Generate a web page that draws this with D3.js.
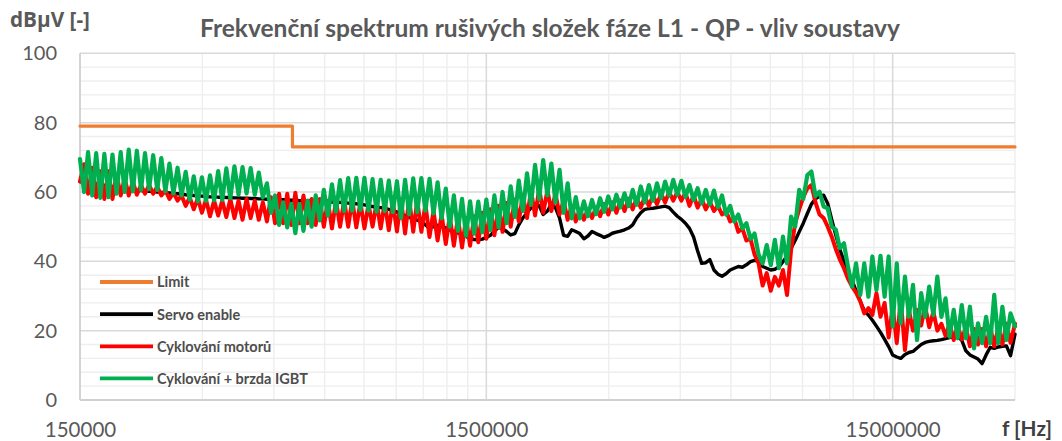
<!DOCTYPE html>
<html>
<head>
<meta charset="utf-8">
<script src="https://cdn.jsdelivr.net/npm/d3@7"></script>
<style>
  html, body { margin: 0; padding: 0; background: #ffffff; overflow: hidden; }
  svg { display: block; }
  text { font-family: Lato, "Open Sans", "Liberation Sans", sans-serif; }
  .bold { font-weight: 700; }
</style>
</head>
<body>
<svg id="chart" width="1062" height="441"></svg>
<script>
// Scan frequencies in kHz (log sweep, 100 points per decade)
const freqKHz = [
  150,153.5,157,160.8,164.4,168.3,172.2,176.3,180.3,184.5,
  188.9,193.2,197.7,202.4,207,212,216.8,221.9,227.1,232.4,
  237.8,243.3,249,254.7,260.7,266.7,273,279.3,285.8,292.5,
  299.3,306.3,313.4,320.7,328.2,335.9,343.7,351.6,359.9,368.3,
  376.8,385.5,394.5,403.8,413.1,422.7,432.6,442.7,453,463.5,
  474.3,485.4,496.7,508.2,520.1,532.2,544.7,557.3,570.3,583.5,
  597.2,611.1,625.4,639.9,654.8,670.1,685.7,701.6,717.9,734.7,
  751.8,769.4,787.2,805.5,824.3,843.5,863.1,883.2,903.9,924.9,
  946.5,968.6,991.1,1014,1038,1062,1087,1112,1138,1164,
  1192,1219,1248,1277,1307,1337,1368,1400,1433,1466,
  1500,1535,1570,1608,1644,1683,1722,1763,1803,1845,
  1889,1932,1977,2024,2070,2120,2168,2219,2271,2324,
  2378,2433,2490,2547,2607,2667,2730,2793,2858,2925,
  2993,3063,3134,3207,3282,3359,3437,3516,3599,3683,
  3768,3855,3945,4038,4131,4227,4326,4427,4530,4635,
  4743,4854,4967,5082,5201,5322,5447,5573,5703,5835,
  5972,6111,6254,6399,6548,6701,6857,7016,7179,7347,
  7518,7694,7872,8055,8243,8435,8631,8832,9039,9249,
  9465,9686,9911,10140,10380,10620,10870,11120,11380,11640,
  11920,12190,12480,12770,13070,13370,13680,14000,14330,14660,
  15000,15350,15700,16080,16440,16830,17220,17630,18030,18450,
  18890,19320,19770,20240,20700,21200,21680,22190,22710,23240,
  23780,24330,24900,25470,26070,26670,27300,27930,28580,29250,
  30000
];

// Servo enable [dBµV]
const servoEnable = [
  63,62.8,62.6,62.5,62.3,62.1,61.9,61.7,61.5,61.3,
  61.1,60.9,60.8,60.6,60.5,60.4,60.3,60.2,60.1,60,
  59.9,59.8,59.7,59.6,59.5,59.4,59.2,59.1,59,58.9,
  58.8,58.7,58.6,58.6,58.5,58.5,58.4,58.4,58.3,58.3,
  58.2,58.2,58.1,58.1,58,58,57.9,57.9,57.8,57.8,
  57.8,57.7,57.6,57.6,57.5,57.5,57.4,57.4,57.3,57.3,
  57.3,57.2,57.1,57.1,57,56.9,56.8,56.7,56.6,56.5,
  56.3,56,55.8,55.6,55.5,55.3,55,54.6,54.2,53.6,
  53.2,52.7,52.2,51.9,51.4,50.5,49.6,50,50.4,50.2,
  49.6,49,48.6,48.2,47.8,47.2,46.5,46.3,46.2,46.4,
  46.9,47.5,48.7,49.8,49.4,48.6,47.6,48,50.5,52.5,
  54,55.4,56.6,56,53.5,54.5,56.5,55.5,52.5,47.5,
  47.2,49.1,48.6,48,46.5,47.3,48.6,48,47.5,46.9,
  47.4,48.1,48.4,48.7,49.1,49.6,50.5,52.5,54,55,
  55.2,55.3,55.5,55.7,55.9,55.5,54.2,53,52.1,51,
  49.5,47,43,39.4,39.6,40.5,37.5,36.3,35.7,36.4,
  37.5,38,38.5,38.3,39,39.9,40.3,40,38.5,38,
  37.5,37.7,38.4,39.9,41.5,43.8,46,48.5,51,53.8,
  56.5,58,58.8,59.1,56.7,52,47.5,43.5,40,37,
  34.5,31.5,28.5,25.8,24.5,23,21.3,19.5,17.5,15.4,
  13,12.4,12,13.1,13.7,14,15,16,16.6,16.9,
  17.1,17.2,17.4,17.7,18,18.3,18.3,17.2,14.2,13,
  12.4,11.8,10.5,13,15.2,14.9,15.3,15.5,15.6,12.8,
  19
];

// Cyklování motorů [dBµV]
const motorCycling = [
  63,68,59.5,67,58.5,66,58,66,58,65,
  59,64,59,63,59.2,62,59.5,62,59.5,61.5,
  59,60.5,58,59.8,57.5,59,56,58.5,55,58.2,
  54,57.8,53,57.5,53.2,57.5,52.8,58,52.5,57.5,
  52,58,52.5,57.5,52,57,51.5,58.5,51,59.5,
  51,59.5,50.5,59.8,51,59,51,58,50.5,58,
  50,57.5,49.5,57.5,50,57.5,50,57.7,49.8,57,
  49.5,56.5,50,57,49.5,57,49,57,48.6,58,
  48,58,48.5,57.5,48.5,56.5,47,54.5,46,53.5,
  45,53,44.5,52.7,44,52.5,44.5,53,45.5,54,
  46.5,55,47.5,56,48.5,56.8,50,57.8,51.5,59.2,
  52.5,60.5,53.2,61,54,60.5,54.5,59.5,53.5,57.5,
  52,56,51.5,55,52,55,52.5,55.5,53,56.5,
  53.5,57,54,57.5,54.5,58,55,58.2,55.5,58.7,
  56,59,56.5,59.5,57,60,57.5,60,57.5,59.8,
  56,59,55.5,58,55,57.2,54.5,56,53.5,54.5,
  51.5,52.5,48.5,49.5,46,46.5,42,39.4,33,36.6,
  31.5,35.5,33,37.5,30.3,43.3,51,55,58.5,61,
  62,57,53.5,52.5,50,47.1,43.5,40.5,38,35,
  32.7,31,28.5,25,26.5,24.5,30.8,24,28,18,
  27,16.4,29,14.4,26,20,26,21.5,27,21,
  25.5,20,22,18.5,22,17.3,21.5,17.5,21,15.5,
  20.5,16,20.5,15.5,21,15.5,21,16,22,16.5,
  22
];

// Cyklování + brzda IGBT [dBµV]
const cyclingBrake = [
  69.5,60,71.5,59,71.2,58.3,71,58.5,70.8,59.5,
  71.5,60,72.2,60.2,71.9,60.6,71.2,60.8,70.6,60.6,
  69.8,60.2,68.2,59.6,67,59,65.8,57.8,64.5,57.3,
  64.2,57.4,64.8,57.6,66,57.7,66.8,58.2,67.4,59.2,
  67.2,59.6,66.9,59.2,65.6,58.4,62.5,54,59,50.5,
  57,49.8,56.6,48.1,56.5,48.8,57.5,50,59,51.8,
  60.6,53.2,62.2,54.3,63.4,54.5,64,54.6,64.1,54.8,
  64.1,54.6,63.7,54.3,63.5,54.5,63.3,54.2,63.1,52.5,
  63.5,53.6,63.9,54.2,64,54.6,63.8,53.8,62.8,52.4,
  61,50,59,48.8,58,47.4,57.3,48,57.2,48.4,
  57.8,49,59,49.8,60,51,61.6,52.8,63.3,54.5,
  65.4,56.3,67.8,58,69.2,59,68.2,57,66.4,54,
  62.5,52.4,58.5,52.4,57.3,53,57.7,53.6,58.2,54.3,
  58.7,55,59.2,55.6,59.6,55.9,60.6,56.3,61.6,57,
  62,57.5,62.5,58.3,63,59,63.5,59.2,63.2,58.6,
  62,57.7,61.1,56.7,60.6,56.4,60.4,55.6,59,53.5,
  56,51.5,53.5,49.5,51,46.5,48,42,39.4,44.7,
  38.9,46.2,38,47.1,39.4,52.9,50,60.6,58,64.9,
  65.9,58.8,60.1,55.8,55.3,50,49.1,43.8,45.2,38.5,
  32.7,39.4,30.3,39.4,29.8,41.4,31.7,41.6,29.8,41.4,
  21.2,39.4,22.1,35.6,24,33.2,17.3,30.8,24,32.7,
  24.5,35.6,24,29.3,18.3,26,17.8,27.4,17.8,26.9,
  14.9,22.1,16.4,24,16.4,30.3,16.4,26.9,17.3,25,
  21.2
];

// QP limit (step at 500 kHz)
const limitFreqKHz = [150, 500, 500, 30000];
const limitDb = [79, 79, 73, 73];

const xTickValues = [150000, 1500000, 15000000];
const yTickValues = [0, 20, 40, 60, 80, 100];

const seriesNames = ["Limit", "Servo enable", "Cyklování motorů", "Cyklování + brzda IGBT"];
const seriesColors = ["#ED7D31", "#000000", "#FF0000", "#00B050"];

const titleText = "Frekvenční spektrum rušivých složek fáze L1 - QP - vliv soustavy";
const yAxisTitle = "dBμV [-]";
const xAxisTitle = "f [Hz]";

// ---------------------------------------------------------------
const svg = d3.select("#chart");
const plot = { left: 80, right: 1015, top: 53.3, bottom: 400 };

const x = d3.scaleLog().domain([150000, 30000000]).range([plot.left, plot.right]);
const y = d3.scaleLinear().domain([0, 100]).range([plot.bottom, plot.top]);

svg.append("rect").attr("width", 1062).attr("height", 441).attr("fill", "#ffffff");

// Grid
const grid = svg.append("g");
const minorY = d3.range(0, 101, 4).filter(v => v % 20 !== 0);
grid.selectAll(".hminor").data(minorY).join("line")
  .attr("x1", plot.left).attr("x2", plot.right)
  .attr("y1", d => y(d)).attr("y2", d => y(d))
  .attr("stroke", "#eeeeee").attr("stroke-width", 1.4);

const minorX = [];
[150000, 1500000, 15000000].forEach(base => {
  for (let k = 2; k <= 9; k++) if (base * k <= 30000000) minorX.push(base * k);
});
grid.selectAll(".vminor").data(minorX).join("line")
  .attr("x1", d => x(d)).attr("x2", d => x(d))
  .attr("y1", plot.top).attr("y2", plot.bottom)
  .attr("stroke", "#eeeeee").attr("stroke-width", 1.4);

grid.selectAll(".hmajor").data(yTickValues.filter(v => v > 0)).join("line")
  .attr("x1", plot.left).attr("x2", plot.right)
  .attr("y1", d => y(d)).attr("y2", d => y(d))
  .attr("stroke", "#d9d9d9").attr("stroke-width", 1.5);

grid.selectAll(".vmajor").data([1500000, 15000000]).join("line")
  .attr("x1", d => x(d)).attr("x2", d => x(d))
  .attr("y1", plot.top).attr("y2", plot.bottom)
  .attr("stroke", "#d9d9d9").attr("stroke-width", 1.5);

// Axis lines
svg.append("line").attr("x1", plot.left).attr("x2", plot.left)
  .attr("y1", plot.top).attr("y2", plot.bottom)
  .attr("stroke", "#c8c8c8").attr("stroke-width", 1.6);
svg.append("line").attr("x1", plot.left).attr("x2", plot.right)
  .attr("y1", plot.bottom).attr("y2", plot.bottom)
  .attr("stroke", "#d0d0d0").attr("stroke-width", 1.8);

// Axes (labels only)
const xAxis = svg.append("g").attr("transform", `translate(0,${plot.bottom})`)
  .call(d3.axisBottom(x).tickValues(xTickValues).tickFormat(d3.format("d")).tickSize(0).tickPadding(22));
xAxis.select(".domain").remove();
xAxis.selectAll("text").attr("fill", "#595959").style("font-size", "20.5px")
  .style("font-family", 'Lato, "Open Sans", sans-serif');

const yAxis = svg.append("g").attr("transform", `translate(${plot.left},0)`)
  .call(d3.axisLeft(y).tickValues(yTickValues).tickSize(0).tickPadding(23));
yAxis.select(".domain").remove();
yAxis.selectAll("text").attr("fill", "#595959").style("font-size", "20px")
  .style("font-family", 'Lato, "Open Sans", sans-serif');

// Series
const line = d3.line().x(d => x(d[0] * 1000)).y(d => y(d[1]));
const seriesData = [
  d3.zip(limitFreqKHz, limitDb),
  d3.zip(freqKHz, servoEnable),
  d3.zip(freqKHz, motorCycling),
  d3.zip(freqKHz, cyclingBrake)
];
const widths = [3.2, 3.4, 4, 4.2];
const lines = svg.append("g");
seriesData.forEach((data, i) => {
  lines.append("path").datum(data)
    .attr("d", line)
    .attr("fill", "none")
    .attr("stroke", seriesColors[i])
    .attr("stroke-width", widths[i])
    .attr("stroke-linejoin", "round")
    .attr("stroke-linecap", "round");
});

// Fit a text element to a target width
function fitWidth(sel, target, base) {
  sel.style("font-size", base + "px");
  const w = sel.node().getComputedTextLength();
  if (w > 0) sel.style("font-size", (base * target / w).toFixed(2) + "px");
}

// Legend
const legend = svg.append("g");
const legendRows = [282, 314.2, 346.4, 378.4];
const labelSel = [];
seriesNames.forEach((name, i) => {
  legend.append("line")
    .attr("x1", 100).attr("x2", 153)
    .attr("y1", legendRows[i]).attr("y2", legendRows[i])
    .attr("stroke", seriesColors[i]).attr("stroke-width", 3.8);
  labelSel.push(legend.append("text")
    .attr("class", "bold")
    .attr("x", 157).attr("y", legendRows[i] + 5.3)
    .attr("fill", "#4d4d4d")
    .text(name));
});
// size all legend labels from the longest one
fitWidth(labelSel[3], 151, 15);
const legendSize = labelSel[3].style("font-size");
labelSel.forEach(s => s.style("font-size", legendSize));

// Titles
const title = svg.append("text")
  .attr("class", "bold")
  .attr("x", 550).attr("y", 36.7).attr("text-anchor", "middle")
  .attr("fill", "#595959")
  .text(titleText);
fitWidth(title, 700, 22);

const yTitle = svg.append("text")
  .attr("class", "bold")
  .attr("x", 10).attr("y", 26.5)
  .attr("fill", "#595959")
  .style("font-family", '"Open Sans", Lato, sans-serif')
  .text(yAxisTitle);
fitWidth(yTitle, 80, 18);

const xTitle = svg.append("text")
  .attr("class", "bold")
  .attr("x", 1052).attr("y", 436).attr("text-anchor", "end")
  .attr("fill", "#404040")
  .text(xAxisTitle);
fitWidth(xTitle, 50, 20);
</script>
</body>
</html>
